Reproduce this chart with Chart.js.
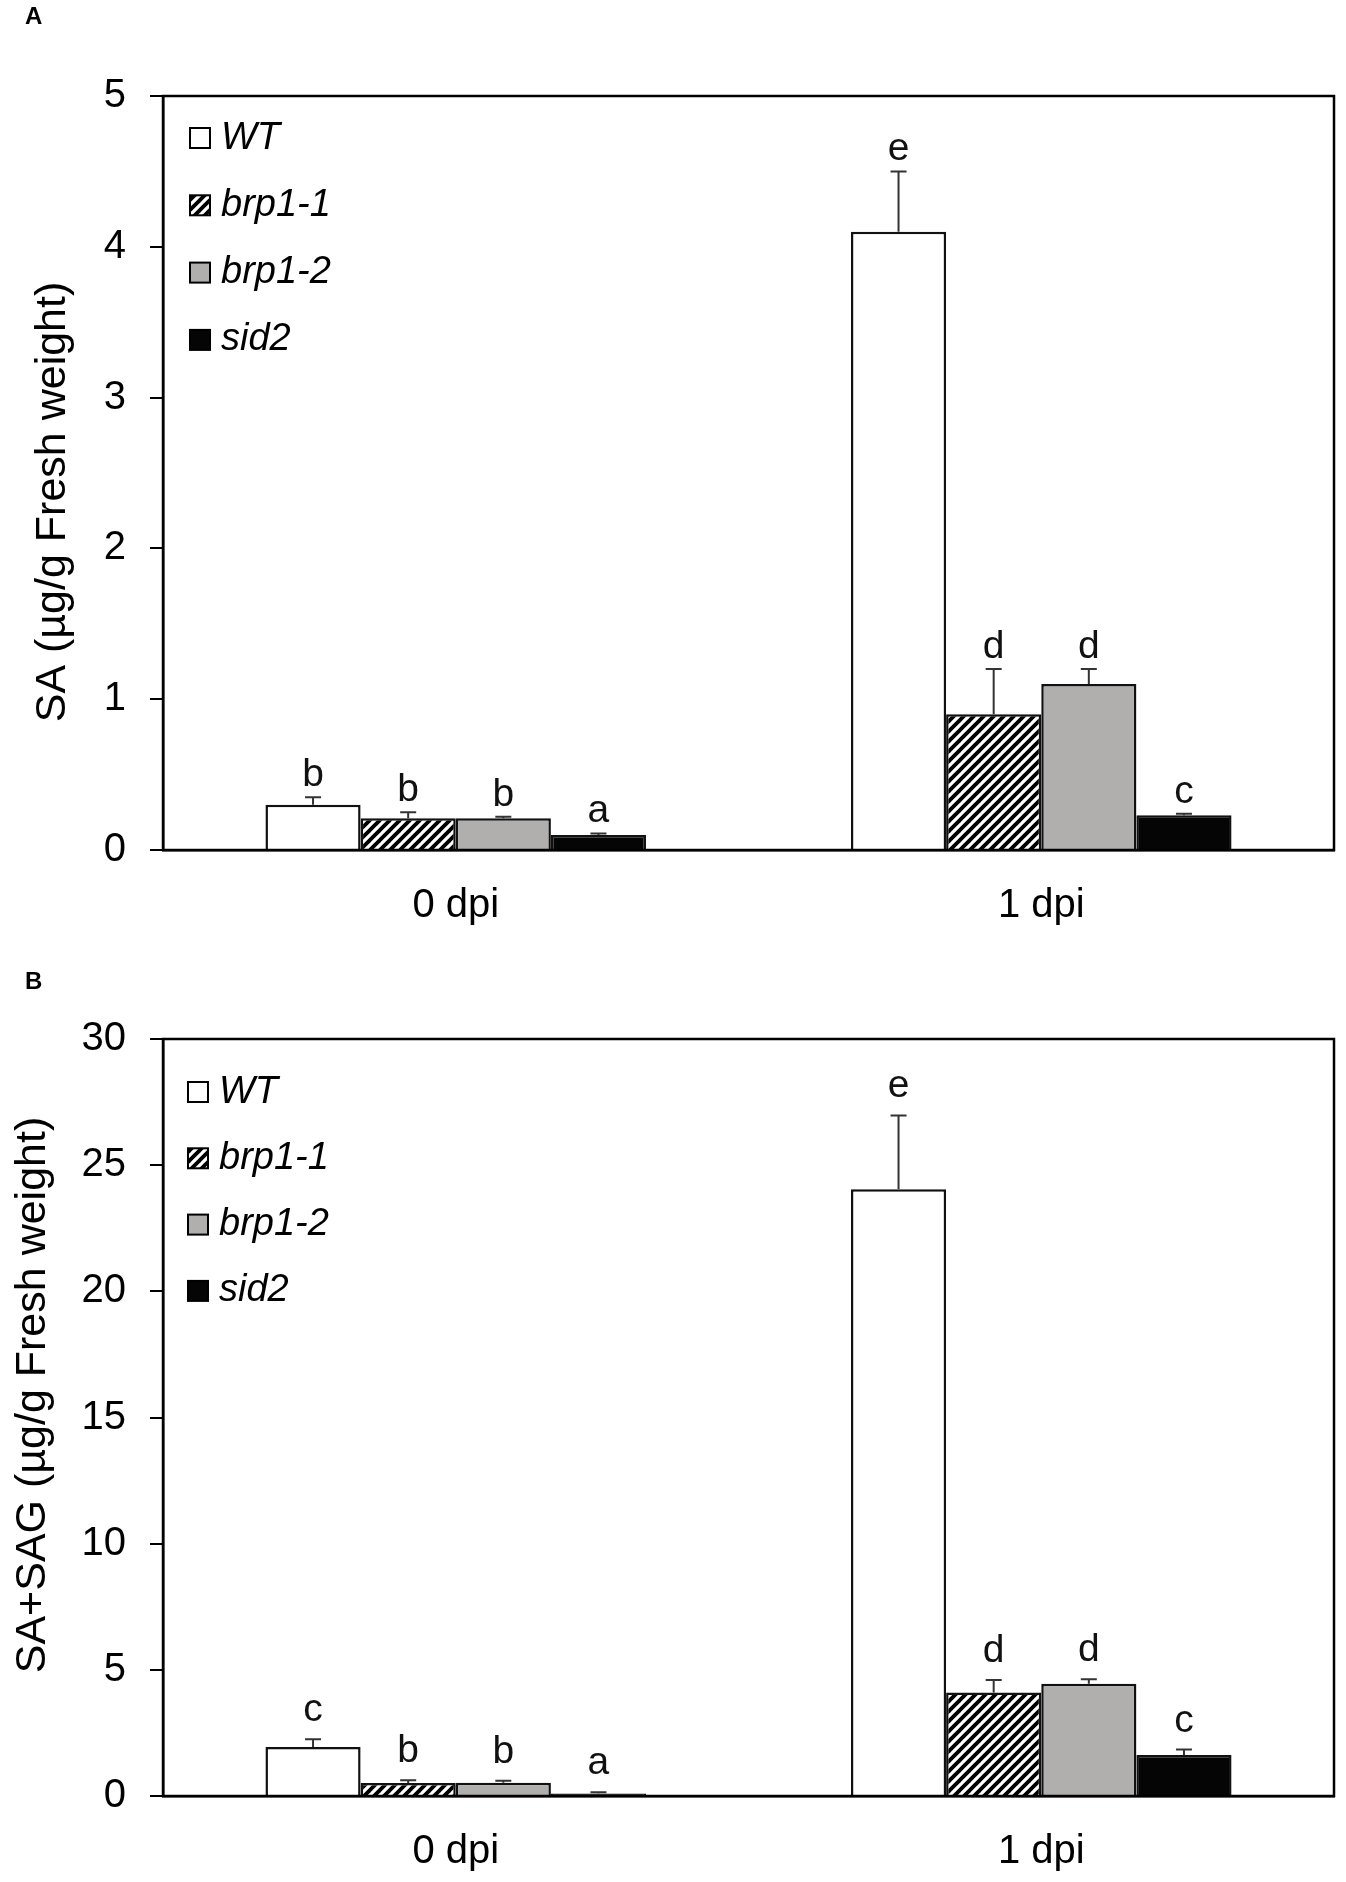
<!DOCTYPE html>
<html><head><meta charset="utf-8">
<script src="https://cdn.jsdelivr.net/npm/chart.js@4.4.1/dist/chart.umd.min.js"></script>
<style>
html,body{margin:0;padding:0;background:#fff;}
#wrapA{position:absolute;left:0;top:0;width:1346px;height:950px;}
#wrapB{position:absolute;left:0;top:950px;width:1346px;height:932px;}
canvas{display:block;}
</style></head><body>
<div id="wrapA"><canvas id="cA" width="1346" height="950"></canvas></div>
<div id="wrapB"><canvas id="cB" width="1346" height="932"></canvas></div>
<script>
// ---------- data ----------
const categories = ['0 dpi', '1 dpi'];
const genotypes = ['WT', 'brp1-1', 'brp1-2', 'sid2'];

// Panel A: SA (µg/g fresh weight)
const saWT    = [0.30, 4.10];
const saBrp11 = [0.21, 0.90];
const saBrp12 = [0.21, 1.10];
const saSid2  = [0.10, 0.23];
const saErrWT    = [0.05, 0.40];
const saErrBrp11 = [0.04, 0.30];
const saErrBrp12 = [0.01, 0.10];
const saErrSid2  = [0.01, 0.01];
const saLetWT    = ['b', 'e'];
const saLetBrp11 = ['b', 'd'];
const saLetBrp12 = ['b', 'd'];
const saLetSid2  = ['a', 'c'];
const saTicks = [0, 1, 2, 3, 4, 5];

// Panel B: SA+SAG (µg/g fresh weight)
const sagWT    = [1.94, 24.05];
const sagBrp11 = [0.52, 4.10];
const sagBrp12 = [0.53, 4.45];
const sagSid2  = [0.10, 1.62];
const sagErrWT    = [0.31, 2.92];
const sagErrBrp11 = [0.10, 0.50];
const sagErrBrp12 = [0.07, 0.18];
const sagErrSid2  = [0.05, 0.22];
const sagLetWT    = ['c', 'e'];
const sagLetBrp11 = ['b', 'd'];
const sagLetBrp12 = ['b', 'd'];
const sagLetSid2  = ['a', 'c'];
const sagTicks = [0, 5, 10, 15, 20, 25, 30];

// ---------- styling ----------
const FONT = '"Liberation Sans", Arial, Helvetica, sans-serif';
Chart.defaults.font.family = FONT;
Chart.defaults.color = '#000';

function hatchPattern(ctx) {
  const c = document.createElement('canvas');
  c.width = 10; c.height = 10;
  const x = c.getContext('2d');
  x.fillStyle = '#fff'; x.fillRect(0, 0, 10, 10);
  x.strokeStyle = '#000'; x.lineWidth = 3.8;
  for (const o of [-10, 0, 10]) {
    x.beginPath(); x.moveTo(o - 2, 12); x.lineTo(o + 12, -2); x.stroke();
  }
  return ctx.createPattern(c, 'repeat');
}

const annot = {
  id: 'annot',
  afterDatasetsDraw(chart, args, o) {
    const ctx = chart.ctx, ys = chart.scales.y, area = chart.chartArea;
    ctx.save();
    // error bars + letters
    chart.data.datasets.forEach((ds, i) => {
      const meta = chart.getDatasetMeta(i);
      meta.data.forEach((bar, j) => {
        const base = ys.getPixelForValue(ds.data[j]);
        const top = ys.getPixelForValue(ds.data[j] + ds.err[j]);
        ctx.strokeStyle = '#333'; ctx.lineWidth = 2;
        ctx.beginPath();
        ctx.moveTo(bar.x, base); ctx.lineTo(bar.x, top);
        ctx.moveTo(bar.x - 8, top); ctx.lineTo(bar.x + 8, top);
        ctx.stroke();
        ctx.fillStyle = '#111';
        ctx.font = '39px ' + FONT;
        ctx.textAlign = 'center'; ctx.textBaseline = 'alphabetic';
        ctx.fillText(ds.letters[j], bar.x, top - o.letterGap);
      });
    });
    // legend inside plot
    chart.data.datasets.forEach((ds, i) => {
      const cy = area.top + o.legendTop + i * o.legendStep;
      ctx.fillStyle = ds.backgroundColor;
      ctx.fillRect(o.boxX, cy - 10, 20, 20);
      ctx.strokeStyle = '#000'; ctx.lineWidth = 2;
      ctx.strokeRect(o.boxX, cy - 10, 20, 20);
      ctx.fillStyle = '#000';
      ctx.font = 'italic 38px ' + FONT;
      ctx.textAlign = 'left'; ctx.textBaseline = 'middle';
      ctx.fillText(ds.label, o.textX, cy);
    });
    // frame
    ctx.strokeStyle = '#000'; ctx.lineWidth = 2.5;
    ctx.strokeRect(area.left, area.top, area.right - area.left, area.bottom - area.top);
    // y-axis title
    ctx.fillStyle = '#000';
    ctx.font = o.titleSize + 'px ' + FONT;
    ctx.save();
    ctx.translate(o.titleBaseX, o.titleCY);
    ctx.rotate(-Math.PI / 2);
    ctx.textAlign = 'center'; ctx.textBaseline = 'alphabetic';
    ctx.fillText(o.title, 0, 0);
    ctx.restore();
    // panel letter
    ctx.fillStyle = '#000';
    ctx.font = 'bold 24px ' + FONT;
    ctx.textAlign = 'left'; ctx.textBaseline = 'alphabetic';
    ctx.fillText(o.panel, 25, o.panelY);
    ctx.restore();
  }
};

function makeChart(id, vals, errs, lets, ticksArr, yTitle, cfg) {
  const canvas = document.getElementById(id);
  const ctx = canvas.getContext('2d');
  const fills = ['#ffffff', hatchPattern(ctx), '#b1afad', '#050505'];
  const datasets = genotypes.map((g, i) => ({
    label: g,
    data: vals[i],
    err: errs[i],
    letters: lets[i],
    backgroundColor: fills[i],
    borderColor: '#111',
    borderWidth: 2.5,
    borderSkipped: 'bottom',
    categoryPercentage: 0.65,
    barPercentage: 1.0
  }));
  const yMax = ticksArr[ticksArr.length - 1];
  const step = ticksArr[1] - ticksArr[0];
  cfg.annot.title = yTitle;
  return new Chart(ctx, {
    type: 'bar',
    data: { labels: categories, datasets },
    options: {
      responsive: false,
      animation: false,
      devicePixelRatio: 1,
      layout: { padding: { top: cfg.padTop, right: 12, left: 0, bottom: 0 } },
      plugins: {
        legend: { display: false },
        tooltip: { enabled: false },
        annot: cfg.annot
      },
      scales: {
        x: {
          grid: { display: false },
          border: { display: true, color: '#000', width: 2.5 },
          ticks: { color: '#000', font: { size: 40 }, padding: 24 },
          afterFit(s) { s.height = cfg.xHeight; }
        },
        y: {
          min: 0, max: yMax,
          ticks: { stepSize: step, color: '#000', font: { size: 40 }, padding: 24 },
          grid: { drawOnChartArea: false, drawTicks: true, tickLength: 13, color: '#000', lineWidth: 2 },
          border: { display: true, color: '#000', width: 2.5 },
          title: { display: false, text: yTitle },
          afterFit(s) { s.width = 163; }
        }
      }
    },
    plugins: [annot]
  });
}

makeChart('cA',
  [saWT, saBrp11, saBrp12, saSid2],
  [saErrWT, saErrBrp11, saErrBrp12, saErrSid2],
  [saLetWT, saLetBrp11, saLetBrp12, saLetSid2],
  saTicks, 'SA (µg/g Fresh weight)',
  { padTop: 96, xHeight: 100,
    annot: { letterGap: 11, legendTop: 42, legendStep: 67.3, boxX: 190, textX: 221, panel: 'A', panelY: 24,
             titleSize: 43, titleBaseX: 65, titleCY: 502 } });

makeChart('cB',
  [sagWT, sagBrp11, sagBrp12, sagSid2],
  [sagErrWT, sagErrBrp11, sagErrBrp12, sagErrSid2],
  [sagLetWT, sagLetBrp11, sagLetBrp12, sagLetSid2],
  sagTicks, 'SA+SAG (µg/g Fresh weight)',
  { padTop: 89, xHeight: 86,
    annot: { letterGap: 18, legendTop: 53, legendStep: 66.3, boxX: 188, textX: 219, panel: 'B', panelY: 39,
             titleSize: 43, titleBaseX: 45, titleCY: 445 } });
</script>
</body></html>
